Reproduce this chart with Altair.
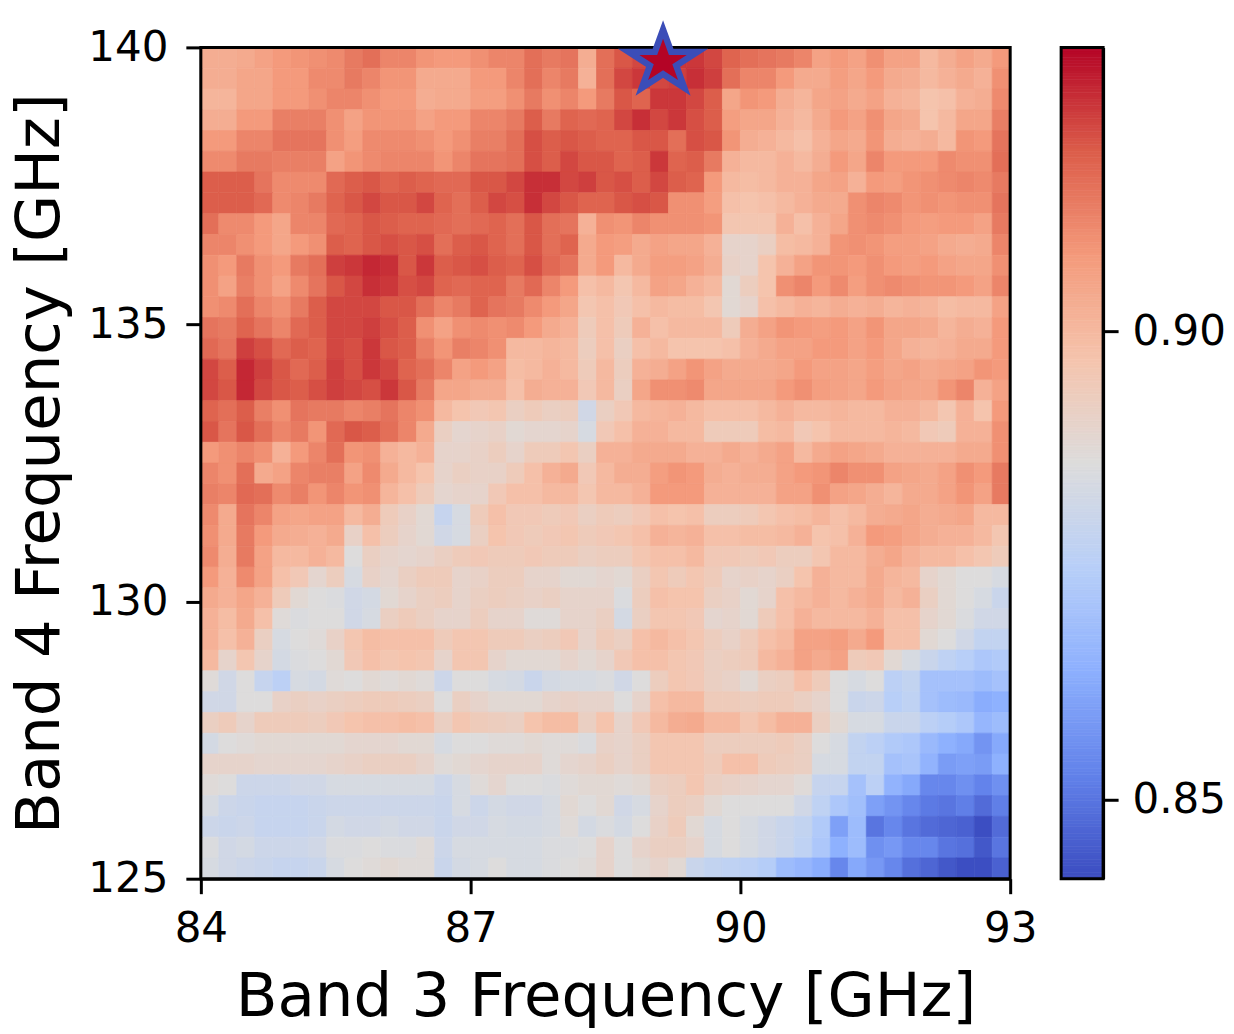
import altair as alt
import numpy as np
import pandas as pd

# Cell values, as per-mille above 0.840 (top row first, left to right)
rows = [
[63,63,64,66,68,69,70,71,74,76,72,72,69,68,68,70,72,72,76,74,75,63,76, 80,82,84,84,84,82,78,76,75,74,72,66,68,66,70,66,66,60,63,66,64,68],
[63,63,65,65,68,68,71,71,74,72,69,69,64,64,64,68,68,72,76,72,74,62,76, 82,84,82,83,85,83,76,72,72,68,64,64,67,65,68,64,63,60,62,64,62,70],
[61,61,65,65,68,68,70,72,72,70,68,68,63,64,64,67,67,70,74,70,72,68,74, 80,78,84,84,82,79,65,69,68,63,61,65,66,64,66,62,61,57,58,62,63,71],
[63,63,68,68,73,73,73,70,66,69,69,69,66,68,68,72,72,74,79,74,78,77,78, 82,85,82,84,81,79,67,65,65,62,60,64,68,66,70,65,64,57,60,65,65,73],
[68,68,72,72,75,75,75,70,67,71,71,71,70,68,70,73,73,76,81,79,80,79,78, 78,80,80,76,81,80,69,63,62,60,58,62,65,64,69,63,62,63,60,69,68,75],
[71,71,74,74,73,73,73,66,69,71,72,72,72,69,72,75,75,76,81,79,82,80,80, 78,79,84,78,79,74,62,60,60,62,60,63,68,65,72,68,68,68,71,70,70,76],
[79,79,79,75,71,71,71,77,79,80,78,79,78,77,77,80,80,82,85,85,82,83,80, 81,79,82,79,78,68,60,59,60,62,62,65,66,62,68,67,69,70,71,72,71,74],
[79,79,79,77,71,72,74,78,80,82,80,80,82,78,76,79,82,81,85,82,80,78,78, 80,81,80,70,70,67,58,57,58,60,62,64,64,70,72,71,69,70,69,70,70,75],
[76,71,71,68,65,72,72,77,78,80,79,78,78,77,76,77,78,76,80,76,75,62,70, 69,72,70,70,70,69,56,56,56,62,58,62,65,70,71,70,68,67,68,68,66,74],
[72,72,70,68,65,68,70,79,78,80,81,80,81,76,79,80,78,76,80,76,78,64,68, 67,64,66,65,65,62,50,50,52,59,60,62,69,70,69,67,67,66,64,63,64,72],
[70,68,74,70,68,74,76,83,84,86,85,80,84,79,80,81,79,78,81,77,75,64,68, 60,64,67,67,66,63,51,50,57,62,66,69,69,68,70,68,67,68,66,65,65,70],
[70,66,73,70,66,71,75,80,82,85,84,81,82,78,77,78,78,74,77,72,68,58,60, 56,60,66,65,62,60,48,53,57,70,72,68,71,67,70,71,70,69,69,68,66,72],
[70,71,76,72,70,74,79,82,82,82,80,80,76,72,74,78,75,74,71,68,65,56,58, 55,58,60,59,59,56,48,50,58,60,62,61,63,62,63,61,62,61,59,60,60,66],
[75,74,78,75,72,77,79,82,82,83,81,79,70,66,70,71,70,71,68,64,62,54,58, 54,62,58,60,60,60,54,63,66,69,68,67,68,66,69,65,65,64,61,63,62,68],
[77,75,83,81,77,79,78,82,81,84,80,79,73,69,73,72,70,60,60,61,60,53,58, 52,58,60,57,57,57,58,62,64,66,66,68,68,66,68,65,62,61,62,64,64,68],
[82,79,86,83,80,77,79,83,81,84,82,78,76,72,66,68,66,59,60,62,60,54,60, 53,62,63,66,69,66,64,64,64,65,68,66,66,65,67,65,66,64,65,66,69,68],
[82,80,86,82,80,79,81,83,82,81,84,80,74,65,65,63,63,58,63,62,62,55,60, 52,65,70,70,71,65,65,65,65,68,70,67,66,65,68,66,65,65,69,72,62,66],
[78,76,79,73,70,75,74,74,72,73,75,72,70,60,57,55,56,52,54,52,53,42,52, 55,60,61,62,60,58,58,58,60,62,60,60,61,60,60,62,62,60,56,62,57,68],
[80,75,80,76,72,74,69,77,80,79,76,72,64,52,49,50,51,48,49,49,50,44,55, 58,62,62,60,60,54,54,54,59,60,55,57,60,60,60,61,60,55,54,62,62,70],
[68,70,72,70,62,68,72,76,69,70,62,60,62,50,50,51,53,50,54,54,56,52,62, 62,64,64,64,62,62,64,62,64,66,60,64,66,65,64,62,62,62,62,64,64,70],
[72,70,76,64,66,72,73,73,66,71,64,60,57,50,52,51,51,54,58,62,64,55,60, 63,63,67,69,68,63,62,63,63,66,68,69,72,70,70,66,65,64,66,70,68,74],
[73,72,77,76,71,73,69,72,69,70,61,58,54,49,50,50,55,58,58,60,60,56,60, 60,62,68,68,68,62,62,62,62,66,66,70,66,65,63,61,64,64,66,69,66,74],
[71,64,75,72,66,65,66,66,60,63,54,51,48,39,44,54,58,55,55,54,55,52,54, 53,55,58,57,58,53,53,54,56,58,59,61,58,60,63,64,65,63,64,65,60,60],
[70,64,74,68,64,63,62,64,51,58,53,50,48,42,44,52,57,55,54,55,56,54,55, 56,58,62,61,62,58,58,59,59,60,62,57,58,62,68,67,65,63,62,62,60,56],
[71,63,74,66,60,60,62,60,46,52,50,49,50,52,54,55,54,54,55,54,54,52,53, 53,56,58,58,60,55,55,54,55,53,53,56,60,60,63,65,62,60,60,58,56,54],
[68,62,71,66,58,55,49,53,44,51,49,52,54,54,50,51,53,53,50,50,48,48,49, 48,52,56,54,56,54,50,51,50,52,57,62,60,60,64,61,60,50,48,46,46,44],
[64,62,65,62,54,48,46,45,42,43,48,50,52,53,50,52,53,52,51,52,50,50,50, 45,53,58,57,57,52,51,48,50,58,60,62,60,62,64,60,62,52,48,46,44,40],
[62,59,64,58,47,45,46,46,42,44,52,54,52,50,50,53,50,50,47,47,50,50,52, 43,52,56,56,55,49,50,48,54,58,62,60,60,60,62,58,58,50,48,45,42,42],
[62,58,62,52,44,46,47,51,56,59,58,58,58,54,56,56,54,54,52,53,55,50,54, 52,58,60,58,56,53,51,54,58,60,66,66,67,64,68,58,58,48,46,42,38,38],
[60,50,56,50,43,45,46,48,55,58,56,57,56,50,56,56,50,48,48,48,50,48,50, 55,58,58,56,55,52,53,54,60,62,66,64,66,54,55,48,44,40,37,35,32,33],
[47,42,46,39,36,44,43,47,46,48,47,48,47,41,46,46,44,43,40,43,44,44,45, 42,46,53,56,55,52,51,48,52,53,58,54,46,44,46,36,38,30,30,30,28,30],
[42,42,46,46,51,52,51,52,53,54,54,53,52,46,52,50,48,48,48,50,51,50,50, 46,50,58,60,60,54,54,53,54,54,52,50,46,40,41,35,37,30,28,27,23,24],
[52,54,50,54,54,54,53,55,57,58,58,59,58,52,56,54,53,52,57,59,59,52,57, 50,55,60,63,64,60,60,56,59,62,62,52,48,44,44,40,40,36,34,32,26,28],
[43,46,47,48,48,48,48,48,49,49,49,48,48,44,46,46,47,47,48,47,47,45,51, 50,52,56,56,56,53,53,53,53,54,52,46,44,38,36,33,32,27,24,22,17,22],
[50,50,50,49,49,49,49,50,51,52,52,52,50,47,48,49,50,50,50,47,49,50,52, 50,52,56,56,56,54,58,58,54,53,52,44,44,38,38,30,31,25,19,20,19,24],
[47,46,41,41,41,42,42,44,44,44,44,44,44,41,44,47,49,46,46,45,47,48,48, 47,48,52,53,56,52,51,50,49,49,47,39,39,30,36,25,22,14,14,16,13,16],
[44,41,40,39,39,39,40,41,41,41,41,41,41,40,44,41,43,42,42,44,48,46,48, 42,44,50,53,52,48,46,46,46,46,42,37,32,29,20,17,14,11,10,12,8,12],
[41,40,41,39,39,39,40,43,42,42,43,42,42,40,42,42,44,43,43,44,47,43,45, 43,46,51,54,48,44,46,44,42,40,38,33,20,28,10,14,10,8,7,6,2,8],
[45,42,43,41,41,41,42,45,45,46,45,45,47,41,44,44,44,44,44,45,45,46,50, 46,50,52,52,50,44,46,44,42,40,37,32,24,28,16,18,14,14,10,9,4,10],
[44,42,41,40,39,39,40,44,46,47,48,47,47,40,43,44,46,44,44,45,46,47,50, 46,48,50,48,40,38,37,36,34,28,26,23,14,22,18,14,9,7,4,2,2,6],
]

x_ticks = [84, 87, 90, 93]
y_ticks = [125, 130, 135, 140]
bar_ticks = [0.85, 0.90]
x_title = "Band 3 Frequency [GHz]"
y_title = "Band 4 Frequency [GHz]"
star_x = [89.14]
star_y = [139.74]

vmin, vmax = 0.8416, 0.9303
stops = ["#3b4cc0", "#6282ea", "#8db0fe", "#b8cff8", "#dddcdc", "#f5c4ad", "#f49a7b", "#dc5d4a", "#b40426"]
color_scale = alt.Scale(domain=list(np.linspace(vmin, vmax, len(stops))), range=stops, clamp=True, interpolate="rgb")

records = []
nrows, ncols = len(rows), len(rows[0])
dx, dy = 9 / ncols, 15 / nrows
for i, row in enumerate(rows):
    for j, v in enumerate(row):
        records.append({
            "x": 84 + j * dx, "x2": 84 + (j + 1) * dx,
            "y": 140 - (i + 1) * dy, "y2": 140 - i * dy,
            "v": 0.84 + v / 1000,
        })
df = pd.DataFrame(records)

xs = alt.Scale(domain=[84, 93], nice=False, zero=False)
ys = alt.Scale(domain=[125, 140], nice=False, zero=False)

cells = alt.Chart(df).mark_rect(clip=True, strokeWidth=0.7).encode(
    x=alt.X("x:Q", scale=xs, axis=alt.Axis(values=x_ticks, title=x_title, format="d", titlePadding=18, labelPadding=15, labelFlush=False)),
    x2="x2:Q",
    y=alt.Y("y:Q", scale=ys, axis=alt.Axis(values=y_ticks, title=y_title, format="d", titlePadding=16, labelPadding=18, labelFlush=False)),
    y2="y2:Q",
    color=alt.Color("v:Q", scale=color_scale, legend=None),
    stroke=alt.Color("v:Q", scale=color_scale, legend=None),
)
frame = alt.Chart(pd.DataFrame({"a": [0]})).mark_rect(fillOpacity=0, stroke="black", strokeWidth=3).encode(
    x=alt.datum(84, scale=xs), x2=alt.datum(93),
    y=alt.datum(125, scale=ys), y2=alt.datum(140),
)
STAR = "M0,-1L0.2514,-0.309L1.065,-0.309L0.407,0.118L0.659,0.809L0,0.382L-0.659,0.809L-0.407,0.118L-1.065,-0.309L-0.2514,-0.309Z"
star = alt.Chart(pd.DataFrame({"x": star_x, "y": star_y})).mark_point(
    shape=STAR, size=4173, filled=True, fill="#b40426", stroke="#3b4db8",
    strokeWidth=6.4, opacity=1, clip=False, strokeMiterLimit=10,
).encode(x=alt.X("x:Q", scale=xs), y=alt.Y("y:Q", scale=ys))

main = alt.layer(cells, frame, star).properties(width=810, height=832)

levels = np.linspace(vmin, vmax, 257)
bar_df = pd.DataFrame({"lo": levels[:-1], "hi": levels[1:], "v": (levels[:-1] + levels[1:]) / 2})
bs = alt.Scale(domain=[vmin, vmax], nice=False, zero=False)
bar_cells = alt.Chart(bar_df).mark_rect(strokeWidth=0.7).encode(
    x=alt.value(0), x2=alt.value(42),
    y=alt.Y("lo:Q", scale=bs, axis=alt.Axis(values=bar_ticks, format=".2f", title=None, orient="right", labelPadding=14)),
    y2="hi:Q",
    color=alt.Color("v:Q", scale=color_scale, legend=None),
    stroke=alt.Color("v:Q", scale=color_scale, legend=None),
)
bar_frame = alt.Chart(pd.DataFrame({"a": [0]})).mark_rect(fillOpacity=0, stroke="black", strokeWidth=3).encode(
    x=alt.value(0), x2=alt.value(42),
    y=alt.datum(vmin, scale=bs), y2=alt.datum(vmax),
)
bar = alt.layer(bar_cells, bar_frame).properties(width=42, height=832)

chart = alt.hconcat(main, bar, spacing=22).resolve_scale(color="shared").configure_view(stroke=None).configure_axis(
    grid=False, domainColor="black", domainWidth=3, tickColor="black", tickWidth=3, tickSize=15,
    labelColor="black", titleColor="black", labelFontSize=42, titleFontSize=61,
    labelFont="DejaVu Sans", titleFont="DejaVu Sans", titleFontWeight="normal",
).properties(padding={"left": 1, "top": -11, "right": 0, "bottom": 0}, background="white")

chart.save("out.html", embed_options={"renderer": "svg", "actions": False})
